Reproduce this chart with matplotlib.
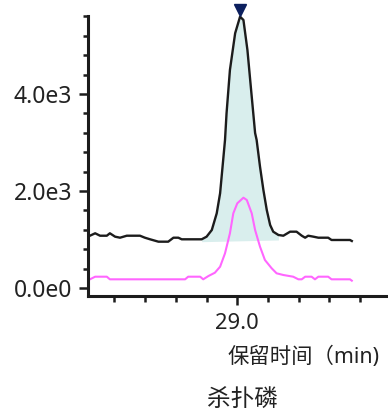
import numpy as np
import matplotlib
matplotlib.use("Agg")
import matplotlib.pyplot as plt
from matplotlib.ticker import FixedLocator

plt.rcParams['font.family'] = ['Noto Sans', 'Noto Sans CJK SC', 'DejaVu Sans']

# retention time (min) and intensity of the quantifier trace (black)
t_black = [28.520, 28.537, 28.553, 28.575, 28.585, 28.602, 28.618, 28.640, 28.683,
           28.699, 28.716, 28.743, 28.775, 28.792, 28.808, 28.819, 28.884, 28.900,
           28.917, 28.933, 28.944, 28.952, 28.960, 28.965, 28.976, 28.993, 29.009,
           29.020, 29.033, 29.044, 29.058, 29.063, 29.074, 29.085, 29.096, 29.107,
           29.117, 29.134, 29.150, 29.172, 29.193, 29.210, 29.221, 29.231, 29.248,
           29.264, 29.296, 29.307, 29.367, 29.373]
i_black = [1078, 1128, 1078, 1078, 1128, 1058, 1037, 1078, 1078,
           1037, 1004, 955, 955, 1037, 1037, 1004, 1004, 1058,
           1196, 1540, 1953, 2501, 3052, 3602, 4495, 5252, 5594,
           5526, 4907, 4151, 3196, 3052, 2501, 2021, 1608, 1299,
           1161, 1093, 1078, 1161, 1161, 1078, 1037, 1078, 1058,
           1037, 1037, 990, 990, 969]

# qualifier trace (magenta)
t_pink = [28.520, 28.537, 28.575, 28.585, 28.830, 28.840, 28.879, 28.889, 28.906,
          28.927, 28.944, 28.960, 28.976, 28.987, 29.000, 29.020, 29.031, 29.047,
          29.058, 29.074, 29.090, 29.112, 29.128, 29.150, 29.182, 29.199, 29.210,
          29.221, 29.242, 29.253, 29.264, 29.296, 29.307, 29.367, 29.373]
i_pink = [179, 233, 233, 179, 179, 233, 233, 179, 247,
          315, 439, 715, 1128, 1540, 1746, 1862, 1814, 1540,
          1196, 852, 577, 406, 303, 268, 233, 179, 179,
          233, 233, 179, 233, 233, 179, 179, 151]

# integration window and baseline
int_t = [28.884, 29.134]
int_base = [955, 990]
apex_t = 29.009
apex_mark = 5742

y_major = [0, 2000, 4000]
y_labels = ["0.0e0", "2.0e3", "4.0e3"]
y_minor = np.arange(400, 5601, 400)
x_major = [29.0]
x_labels = ["29.0"]
x_minor = [28.6, 28.7, 28.8, 28.9, 29.1, 29.2, 29.3, 29.4]

fig = plt.figure(figsize=(3.88, 4.18), dpi=100)
ax = fig.add_axes([88 / 388, 122 / 418, 300 / 388, 296 / 418])

tb = np.array(t_black)
ib = np.array(i_black)
m = (tb >= int_t[0]) & (tb <= int_t[1])
base = np.interp(tb[m], int_t, int_base)
ax.fill_between(tb[m], ib[m], base, color='#d9eeed', lw=0, zorder=1)

ax.plot(t_black, i_black, color='#1c1c1c', lw=1.7, zorder=3)
ax.plot(t_pink, i_pink, color='#ff66ff', lw=1.5, zorder=2)
ax.plot([apex_t], [apex_mark], marker='v', ms=9, color='#0c1f5e',
        ls='none', clip_on=False, zorder=4)

ax.set_xlim(28.5137, 29.4909)
ax.set_ylim(-165, 5938)

ax.spines['top'].set_visible(False)
ax.spines['right'].set_visible(False)
for s in ('left', 'bottom'):
    ax.spines[s].set_linewidth(2.2)
    ax.spines[s].set_color('#1c1c1c')
ax.spines['left'].set_bounds(-165, 5600)

ax.yaxis.set_major_locator(FixedLocator(y_major))
ax.set_yticklabels(y_labels)
ax.yaxis.set_minor_locator(FixedLocator(y_minor))
ax.xaxis.set_major_locator(FixedLocator(x_major))
ax.set_xticklabels(x_labels)
ax.xaxis.set_minor_locator(FixedLocator(x_minor))

ax.tick_params(axis='y', which='major', length=6.5, width=1.8, pad=5,
               labelsize=16.5, colors='#1c1c1c', labelcolor='#222222')
ax.tick_params(axis='y', which='minor', length=3.6, width=1.8, colors='#1c1c1c')
ax.tick_params(axis='x', which='major', length=6.5, width=1.8, pad=5.5,
               labelsize=15.8, colors='#1c1c1c', labelcolor='#222222')
ax.tick_params(axis='x', which='minor', length=4, width=1.8, colors='#1c1c1c')

fig.text(380 / 388, 1 - 357 / 418, "保留时间（min)", ha='right', va='center',
         fontsize=15.4, color='#222222')
fig.text(242 / 388, 1 - 401 / 418, "杀扑磷", ha='center', va='center',
         fontsize=17, color='#222222')

fig.savefig("out.png", dpi=100)
